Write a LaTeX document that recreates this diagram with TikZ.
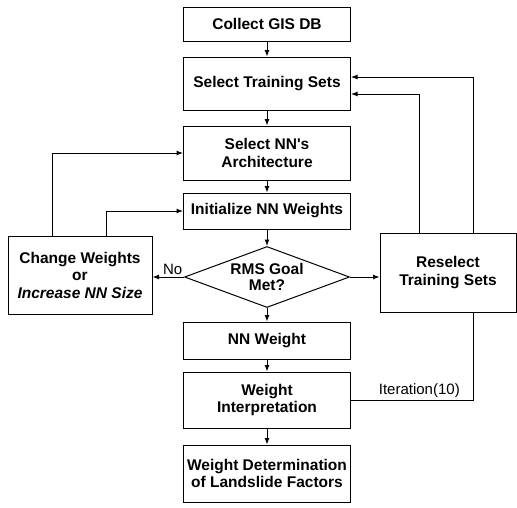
\documentclass[tikz,border=0pt]{standalone}
\usepackage{fontspec}
\setmainfont{Liberation Sans}
\usetikzlibrary{arrows.meta,shapes.geometric}

\begin{document}
\begin{tikzpicture}[x=1pt, y=-1pt,
		box/.style={draw, line width=1pt, minimum width=167pt, inner sep=0pt, align=center, font=\fontsize{15.5}{17.5}\selectfont\bfseries},
		decision/.style={draw, diamond, line width=1pt, minimum width=165pt, minimum height=61pt, aspect=2.7, inner sep=0pt, align=center, font=\fontsize{15.5}{16.5}\selectfont\bfseries},
		arr/.style={line width=1pt, -{Latex[length=6.5pt,width=5pt]}},
		link/.style={line width=1pt},
		tag/.style={font=\fontsize{15}{17}\selectfont, inner sep=1.5pt}]
		%%%%% START %%%%%
		\useasboundingbox (0,0) rectangle (517,507);
		
		\node[box, minimum height=34pt] (collect) at (267, 24) {Collect GIS DB};
		\node[box, minimum height=53pt] (select) at (267, 83.5) {Select Training Sets};
		\node[box, minimum height=54pt] (arch) at (267, 153) {Select NN\textquotesingle s\\Architecture};
		\node[box, minimum height=36pt] (init) at (267, 211) {Initialize NN Weights};
		\node[decision] (rms) at (267, 277) {RMS Goal\\Met?};
		\node[box, minimum height=37pt] (nnw) at (267, 340.5) {NN Weight};
		\node[box, minimum height=56pt] (interp) at (267, 400) {Weight\\Interpretation};
		\node[box, minimum height=57pt] (factors) at (267, 473.5) {Weight Determination\\of Landslide Factors};
		
		\node[box, minimum width=144pt, minimum height=78pt] (change) at (80, 275) {Change Weights\\or\\{\itshape Increase NN Size}};
		\node[box, minimum width=136pt, minimum height=79pt] (reselect) at (448, 272.5) {Reselect\\Training Sets};
		
		\draw[arr] (collect) -- (select);
		\draw[arr] (select) -- (arch);
		\draw[arr] (arch) -- (init);
		\draw[arr] (init) -- (rms);
		\draw[arr] (rms) -- (nnw);
		\draw[arr] (nnw) -- (interp);
		\draw[arr] (interp) -- (factors);
		
		\draw[arr] (rms.west) -- node[tag, pos=0.36, above] {No} (rms.west -| change.east);
		\draw[arr] (rms.east) -- (rms.east -| reselect.west);
		
		\draw[arr] ([xshift=-28pt]change.north) |- (arch.west);
		\draw[arr] ([xshift=26pt]change.north) |- (init.west);
		\draw[arr] ([xshift=-29pt]reselect.north) |- ([yshift=-10.5pt]select.east);
		\draw[arr] ([xshift=25pt]reselect.north) |- ([yshift=6.5pt]select.east);
		
		\draw[link] (interp.east) -| node[tag, pos=0.28, above] {Iteration(10)} ([xshift=25pt]reselect.south);
		%%%%% END %%%%%
	\end{tikzpicture}
\end{document}
